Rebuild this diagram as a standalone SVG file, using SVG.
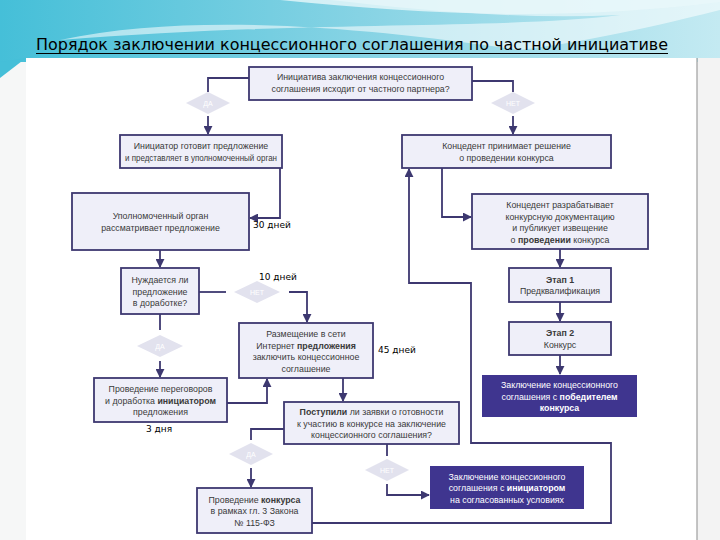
<svg xmlns="http://www.w3.org/2000/svg" width="720" height="540" viewBox="0 0 720 540">
<defs>
<linearGradient id="hdr" x1="0" y1="0" x2="1" y2="0">
<stop offset="0" stop-color="#45bfd8"/>
<stop offset="0.5" stop-color="#86d3e4"/>
<stop offset="1" stop-color="#c4eaf2"/>
</linearGradient>
<marker id="ar" viewBox="0 0 10 10" refX="9" refY="5" markerWidth="5" markerHeight="5" orient="auto">
<path d="M0,0 L10,5 L0,10 z" fill="#3d3870"/>
</marker>
<style>
.box{fill:#efeff9;stroke:#3d3870;stroke-width:1.8}
.dark{fill:#3f358f;stroke:none}
.t{font-family:"Liberation Sans",Arial,sans-serif;font-size:8.8px;fill:#3a3a3a;text-anchor:middle}
.tw{font-family:"Liberation Sans",Arial,sans-serif;font-size:8.8px;fill:#ffffff;text-anchor:middle}
.b{font-weight:bold}
.dia{fill:#e2e2ee}
.dt{font-family:"Liberation Sans",Arial,sans-serif;font-size:7px;fill:#ffffff;text-anchor:middle}
.c{fill:none;stroke:#3d3870;stroke-width:1.8}
.ca{fill:none;stroke:#3d3870;stroke-width:1.8;marker-end:url(#ar)}
.lab{font-family:"DejaVu Sans",sans-serif;font-size:9px;fill:#000000}
</style>
</defs>
<g id="background">
<rect x="0" y="0" width="720" height="540" fill="#f6f7f7"/>
<rect x="0" y="0" width="720" height="62" fill="url(#hdr)"/>
<path d="M0,78 L0,62 L26,58 Z" fill="#45bfd8"/>
<path d="M60,40 C200,10 380,30 520,50 C600,40 680,20 720,10 L720,0 L330,0 C420,10 520,20 620,15 C500,30 300,20 60,40 Z" fill="#ffffff" opacity="0.55"/>
<path d="M280,0 C420,14 560,22 720,2 L720,0 Z" fill="#e9f7fa" opacity="0.8"/>
<rect x="26" y="58" width="671" height="482" fill="#ffffff"/>
<line x1="697" y1="58" x2="697" y2="540" stroke="#8a8a8a" stroke-width="1"/>
<rect x="698" y="58" width="22" height="482" fill="#f3f3f3"/>
</g>
<g id="title">
<text x="36" y="50" font-family="DejaVu Sans Condensed,DejaVu Sans,sans-serif" font-size="15" fill="#000" textLength="632" lengthAdjust="spacingAndGlyphs">Порядок заключении концессионного соглашения по частной инициативе</text>
<line x1="36" y1="53.5" x2="668" y2="53.5" stroke="#000" stroke-width="1"/>
</g>
<g id="connectors">
<polyline class="c" points="249,78 208,78 208,92"/>
<line class="ca" x1="208" y1="116" x2="208" y2="134"/>
<polyline class="c" points="472,81 513,81 513,92"/>
<line class="ca" x1="513" y1="116" x2="513" y2="134"/>
<polyline class="ca" points="280,168 280,218 250,218"/>
<polyline class="ca" points="442,168 442,217 471,217"/>
<line class="ca" x1="160" y1="250" x2="160" y2="267"/>
<line class="ca" x1="560" y1="249" x2="560" y2="267"/>
<line class="ca" x1="560" y1="302" x2="560" y2="321"/>
<line class="ca" x1="560" y1="355" x2="560" y2="374"/>
<line class="c" x1="199" y1="292" x2="226" y2="292"/>
<polyline class="ca" points="289,292 307,292 307,322"/>
<line class="c" x1="160" y1="314" x2="160" y2="330"/>
<line class="ca" x1="160" y1="361" x2="160" y2="377"/>
<polyline class="ca" points="227,403 267,403 267,379"/>
<line class="ca" x1="343" y1="378" x2="343" y2="401"/>
<polyline class="c" points="284,429 251,429 251,440"/>
<line class="ca" x1="251" y1="468" x2="251" y2="487"/>
<line class="c" x1="387" y1="444" x2="387" y2="456"/>
<polyline class="ca" points="387,484 387,495 429,495"/>
<polyline class="ca" points="312,523 611,523 611,443 471,443 471,283 409,283 409,169"/>
</g>
<g id="n1">
<rect class="box" x="249" y="67" width="223" height="33"/>
<text class="t" x="360.5" y="80">Инициатива заключения концессионного</text>
<text class="t" x="360.5" y="91.5">соглашения исходит от частного партнера?</text>
</g>
<g id="d1">
<polygon class="dia" points="186,103 208,92 230,103 208,114"/>
<text class="dt" x="208" y="105.5">ДА</text>
</g>
<g id="d2">
<polygon class="dia" points="491,103 513,92 535,103 513,114"/>
<text class="dt" x="513" y="105.5">НЕТ</text>
</g>
<g id="n2">
<rect class="box" x="120" y="135" width="162" height="33"/>
<text class="t" x="201" y="149">Инициатор готовит предложение</text>
<text class="t" x="201" y="160.5" textLength="152" lengthAdjust="spacingAndGlyphs">и представляет в уполномоченный орган</text>
</g>
<g id="n3">
<rect class="box" x="402" y="135" width="209" height="33"/>
<text class="t" x="506.5" y="149">Концедент принимает решение</text>
<text class="t" x="506.5" y="160.5">о проведении конкурса</text>
</g>
<g id="n4">
<rect class="box" x="72" y="193" width="177" height="57"/>
<text class="t" x="160.5" y="219">Уполномоченный орган</text>
<text class="t" x="160.5" y="230.5">рассматривает предложение</text>
</g>
<g id="n5">
<rect class="box" x="472" y="194" width="176" height="55"/>
<text class="t" x="560" y="208">Концедент разрабатывает</text>
<text class="t" x="560" y="219.5">конкурсную документацию</text>
<text class="t" x="560" y="231">и публикует извещение</text>
<text class="t" x="560" y="242.5">о <tspan class="b">проведении</tspan> конкурса</text>
</g>
<g id="n6">
<rect class="box" x="509" y="268" width="102" height="34"/>
<text class="t b" x="560" y="282.5">Этап 1</text>
<text class="t" x="560" y="294">Предквалификация</text>
</g>
<g id="n7">
<rect class="box" x="509" y="322" width="102" height="33"/>
<text class="t b" x="560" y="336">Этап 2</text>
<text class="t" x="560" y="347.5">Конкурс</text>
</g>
<g id="n8">
<rect class="dark" x="482" y="375" width="155" height="42"/>
<text class="tw" x="559.5" y="388">Заключение концессионного</text>
<text class="tw" x="559.5" y="399.5">соглашения с <tspan class="b">победителем</tspan></text>
<text class="tw b" x="559.5" y="411">конкурса</text>
</g>
<g id="n9">
<rect class="box" x="121" y="268" width="78" height="46"/>
<text class="t" x="160" y="283">Нуждается ли</text>
<text class="t" x="160" y="294.5">предложение</text>
<text class="t" x="160" y="306">в доработке?</text>
</g>
<g id="d3">
<polygon class="dia" points="234,292 257,281 280,292 257,303"/>
<text class="dt" x="257" y="294.5">НЕТ</text>
</g>
<g id="d4">
<polygon class="dia" points="137,346 160,335 183,346 160,357"/>
<text class="dt" x="160" y="348.5">ДА</text>
</g>
<g id="n10">
<rect class="box" x="239" y="323" width="134" height="55"/>
<text class="t" x="306" y="337">Размещение в сети</text>
<text class="t" x="306" y="348.5">Интернет <tspan class="b">предложения</tspan></text>
<text class="t" x="306" y="360">заключить концессионное</text>
<text class="t" x="306" y="371.5">соглашение</text>
</g>
<g id="n11">
<rect class="box" x="94" y="378" width="133" height="44"/>
<text class="t" x="160.5" y="392">Проведение переговоров</text>
<text class="t" x="160.5" y="403.5">и доработка <tspan class="b">инициатором</tspan></text>
<text class="t" x="160.5" y="415">предложения</text>
</g>
<g id="n12">
<rect class="box" x="284" y="402" width="175" height="42"/>
<text class="t" x="371.5" y="415"><tspan class="b">Поступили</tspan> ли заявки о готовности</text>
<text class="t" x="371.5" y="426.5">к участию в конкурсе на заключение</text>
<text class="t" x="371.5" y="438">концессионного соглашения?</text>
</g>
<g id="d5">
<polygon class="dia" points="229,454 251,443 273,454 251,465"/>
<text class="dt" x="251" y="456.5">ДА</text>
</g>
<g id="d6">
<polygon class="dia" points="365,470 387,459 409,470 387,481"/>
<text class="dt" x="387" y="472.5">НЕТ</text>
</g>
<g id="n13">
<rect class="box" x="197" y="488" width="115" height="45"/>
<text class="t" x="254.5" y="502.5">Проведение <tspan class="b">конкурса</tspan></text>
<text class="t" x="254.5" y="514">в рамках гл. 3 Закона</text>
<text class="t" x="254.5" y="525.5">№ 115-ФЗ</text>
</g>
<g id="n14">
<rect class="dark" x="430" y="466" width="154" height="43"/>
<text class="tw" x="507" y="479.5">Заключение концессионного</text>
<text class="tw" x="507" y="491">соглашения с <tspan class="b">инициатором</tspan></text>
<text class="tw" x="507" y="502.5">на согласованных условиях</text>
</g>
<g id="labels">
<text class="lab" x="253" y="228">30 дней</text>
<text class="lab" x="259" y="280">10 дней</text>
<text class="lab" x="378" y="353">45 дней</text>
<text class="lab" x="146" y="432">3 дня</text>
</g>
</svg>
